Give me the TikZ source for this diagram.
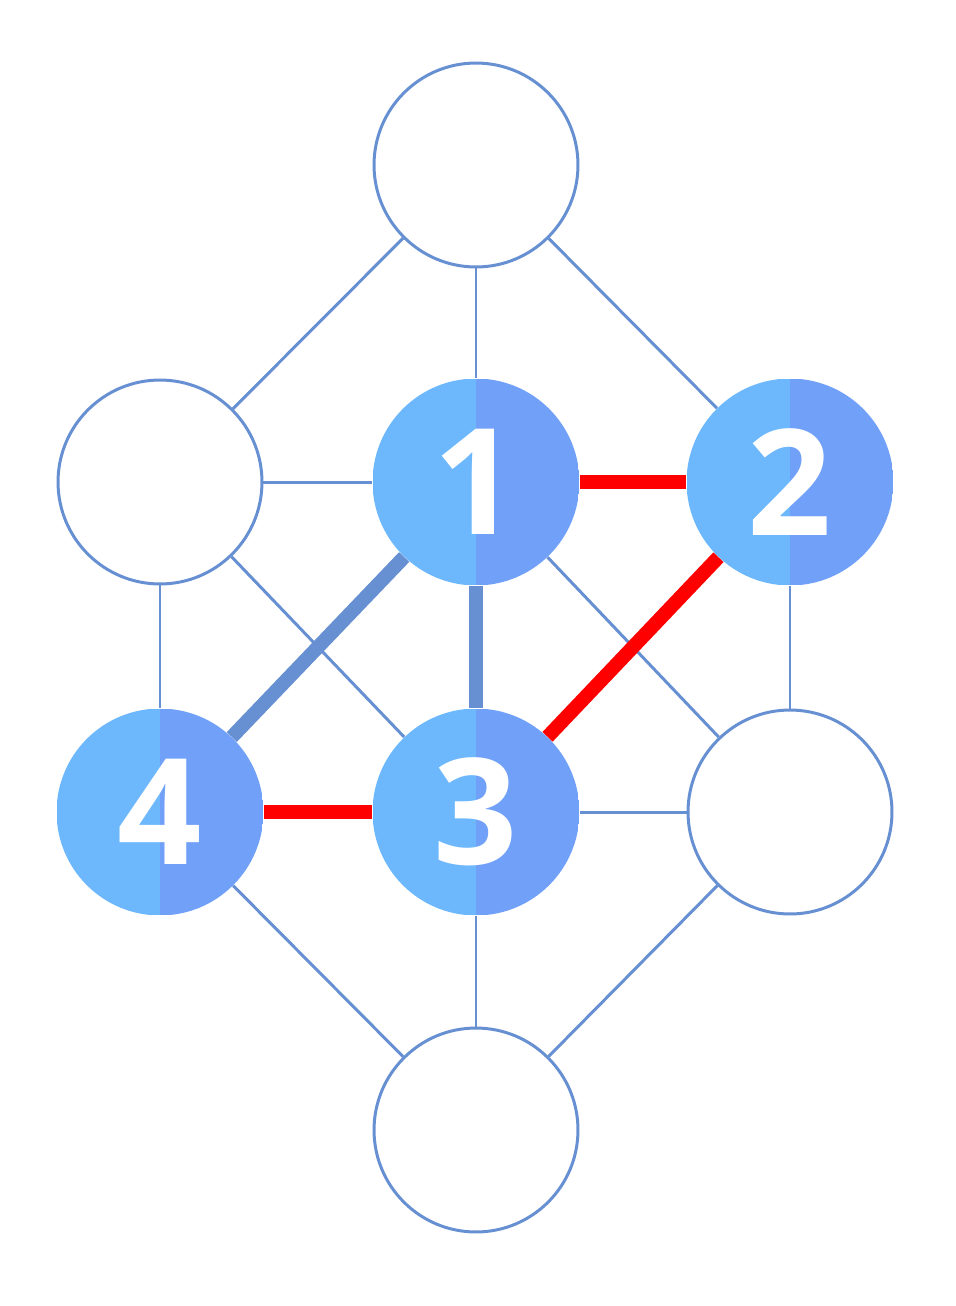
\documentclass[tikz,border=0pt]{standalone}
\usepackage{fontspec}
\setmainfont{Open Sans}
\definecolor{edgeblue}{HTML}{6690D2}
\definecolor{lightfill}{HTML}{6DB8FC}
\definecolor{darkfill}{HTML}{70A0F8}
\tikzstyle{vertex} = [circle, draw=edgeblue, line width=1.7pt, fill=white, minimum size=4.08cm, inner sep=0pt]
\tikzstyle{marked} = [circle, minimum size=4.14cm, inner sep=0pt, text=white, font=\fontsize{84}{84}\selectfont\bfseries,
     path picture={\fill[lightfill] (path picture bounding box.south west) rectangle (path picture bounding box.north);
                   \fill[darkfill] (path picture bounding box.south) rectangle (path picture bounding box.north east);}]
\tikzstyle{line} = [draw=edgeblue, line width=1.7pt]
\tikzstyle{heavy} = [draw=edgeblue, line width=8pt]
\tikzstyle{conflict} = [draw=red, line width=8pt]

\begin{document}
\begin{tikzpicture}[x=0.02cm, y=-0.02cm]
    \useasboundingbox (0,0) rectangle (956,1306);
    % Place nodes
    \node [vertex] (top) at (476,165) {};
    \node [vertex] (left) at (160,482) {};
    \node [marked] (one) at (476,482) {1};
    \node [marked] (two) at (790,482) {2};
    \node [marked] (four) at (160,812) {4};
    \node [marked] (three) at (476,812) {3};
    \node [vertex] (right) at (790,812) {};
    \node [vertex] (bottom) at (476,1130) {};

    % Draw edges
    \begin{scope}[on background layer/.style={}]
    \path [line] (top) -- (left);
    \path [line] (top) -- (one);
    \path [line] (top) -- (two);
    \path [line] (left) -- (one);
    \path [line] (left) -- (four);
    \path [line] (left) -- (three);
    \path [line] (one) -- (right);
    \path [line] (two) -- (right);
    \path [line] (three) -- (right);
    \path [line] (four) -- (bottom);
    \path [line] (three) -- (bottom);
    \path [line] (right) -- (bottom);
    \path [heavy] (one) -- (three);
    \path [heavy] (one) -- (four);
    \path [conflict] (one) -- (two);
    \path [conflict] (two) -- (three);
    \path [conflict] (four) -- (three);
    \end{scope}
\end{tikzpicture}
\end{document}
